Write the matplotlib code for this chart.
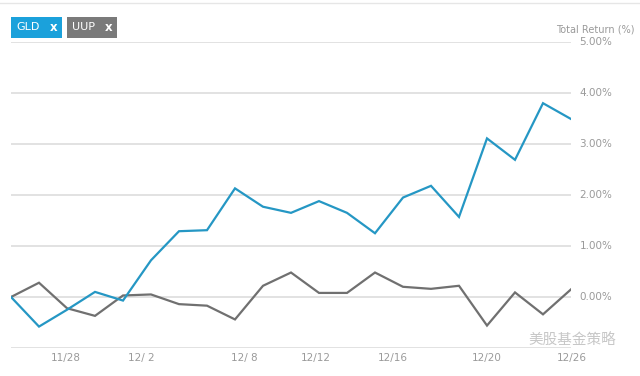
import matplotlib
matplotlib.use("Agg")
import matplotlib.pyplot as plt
from matplotlib.patches import Rectangle

gld = [0.00, -0.58, -0.25, 0.10, -0.07, 0.72, 1.29, 1.31, 2.13, 1.77, 1.65,
       1.88, 1.65, 1.25, 1.95, 2.18, 1.57, 3.11, 2.69, 3.80, 3.49]
uup = [0.00, 0.28, -0.22, -0.37, 0.03, 0.05, -0.14, -0.17, -0.44, 0.22, 0.48,
       0.08, 0.08, 0.48, 0.20, 0.16, 0.22, -0.56, 0.09, -0.34, 0.15]
tick_labels = ["11/28", "12/ 2", "12/ 8", "12/12", "12/16", "12/20", "12/26"]
tick_pos = [1.96, 4.64, 8.32, 10.9, 13.64, 17.0, 20.04]
y_ticks = [0, 1, 2, 3, 4, 5]
y_labels = ["0.00%", "1.00%", "2.00%", "3.00%", "4.00%", "5.00%"]
series_names = ["GLD", "UUP"]

W, H = 640, 376
fig = plt.figure(figsize=(6.4, 3.76), dpi=100)
fig.patch.set_facecolor("white")

ax = fig.add_axes([11 / W, 1 - 348 / H, 560 / W, 306 / H])
ax.set_xlim(0, 20)
ax.set_ylim(-1, 5)
for s in ax.spines.values():
    s.set_visible(False)
ax.set_xticks([])
ax.set_yticks([])
ax.patch.set_alpha(0)

grid_c = "#dadada"
for yv in [-1] + y_ticks:
    ax.axhline(yv, color=grid_c, lw=1.1, zorder=1)

x = list(range(len(gld)))
ax.plot(x, uup, color="#707070", lw=1.6, zorder=3, solid_joinstyle="miter")
ax.plot(x, gld, color="#2597c4", lw=1.6, zorder=4, solid_joinstyle="miter")

tc = "#9a9a9a"
for p, lab in zip(tick_pos, tick_labels):
    ax.text(p, -1.2, lab, ha="center", va="center", fontsize=7.5, color=tc,
            transform=ax.transData, clip_on=False)
for yv, lab in zip(y_ticks, y_labels):
    fig.text(596 / W, 1 - (297 - 51 * yv) / H, lab, ha="center", va="center",
             fontsize=7.5, color=tc)
fig.text(635 / W, 1 - 30 / H, "Total Return (%)", ha="right", va="center",
         fontsize=7, color=tc)

# legend boxes
boxes = [(11, 62, "#1ba1db"), (67, 117, "#7a7a7a")]
for (x0, x1, c), name in zip(boxes, series_names):
    fig.patches.append(Rectangle((x0 / W, 1 - 38 / H), (x1 - x0) / W, 21 / H,
                                 transform=fig.transFigure, color=c, lw=0))
    fig.text((x0 + 5) / W, 1 - 27.5 / H, name, ha="left", va="center",
             fontsize=8, color="white")
    fig.text((x1 - 8) / W, 1 - 27.5 / H, "x", ha="center", va="center",
             fontsize=8.5, color="white", fontweight="bold")

# faint top UI edge
fig.add_artist(plt.Line2D([0, 1], [1 - 2.5 / H, 1 - 2.5 / H], transform=fig.transFigure,
                          color="#e6e6e6", lw=1))

# watermark
fig.text(572 / W, 1 - 341 / H, "美股基金策略", ha="center", va="center",
         fontsize=10.5, color="#bdbdbd", alpha=0.85,
         family=["Noto Sans CJK SC", "DejaVu Sans"])

fig.savefig("out.png", dpi=100)
